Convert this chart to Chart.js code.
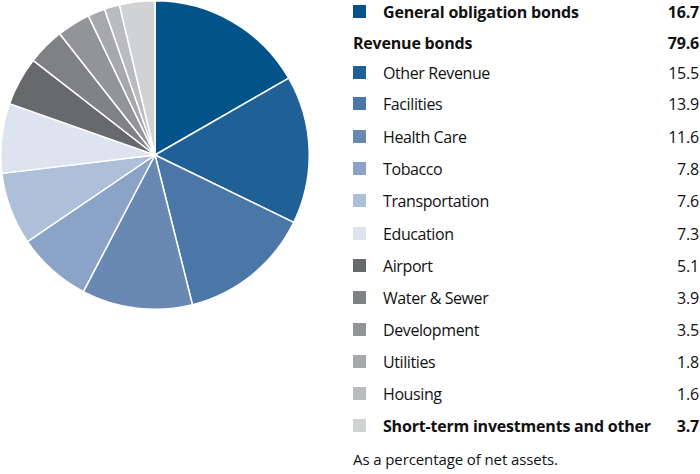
<!DOCTYPE html>
<html>
<head>
<meta charset="utf-8">
<script src="https://cdn.jsdelivr.net/npm/chart.js@4"></script>
<style>
  body { margin: 0; background: #fff; font-family: "Open Sans", sans-serif; color: #111; }
  #wrap { position: relative; width: 700px; height: 474px; }
  #pieBox { position: absolute; left: 0; top: 0; width: 310px; height: 310px; }
  #legend { position: absolute; left: 353px; top: 0; width: 346px; }
  .row { position: absolute; left: 0; width: 346px; height: 24px; line-height: 24px; font-size: 16px; }
  .sw { position: absolute; left: 0; top: 5px; width: 13px; height: 13px; }
  .lab { position: absolute; left: 30px; letter-spacing: -0.4px; }
  .val { position: absolute; right: 0; letter-spacing: -0.2px; }
  .bold { font-weight: 700; }
  .bold .lab { letter-spacing: -0.2px; }
  .head .lab { left: 0; }
  #note { position: absolute; left: 353px; top: 449px; font-size: 15px; letter-spacing: -0.1px; }
</style>
</head>
<body>
<div id="wrap">
  <div id="pieBox"><canvas id="myChart" width="310" height="310"></canvas></div>
  <div id="legend"></div>
  <div id="note">As a percentage of net assets.</div>
</div>
<script>
// 데이터
const labels = ["General obligation bonds", "Other Revenue", "Facilities", "Health Care", "Tobacco",
  "Transportation", "Education", "Airport", "Water & Sewer", "Development", "Utilities", "Housing",
  "Short-term investments and other"];
const values = [16.7, 15.5, 13.9, 11.6, 7.8, 7.6, 7.3, 5.1, 3.9, 3.5, 1.8, 1.6, 3.7];
const colors = ["#03538b", "#1f6197", "#4a77a8", "#6989b4", "#8aa3c6", "#aebfd9", "#dde4ef",
  "#68696d", "#808185", "#939497", "#a7a8ab", "#babbbe", "#d1d2d4"];
const boldLabels = ["General obligation bonds", "Short-term investments and other"];
const groupLabel = "Revenue bonds";
const groupValue = 79.6;

// 범례
const legend = document.getElementById("legend");
const rowY = [0, 31, 61, 92, 125, 157, 189, 222, 254, 286, 318, 350, 382, 414];

let html = "";
let r = 0;
for (let i = 0; i < labels.length; i++) {
  if (i == 1) {
    html += `<div class="row head bold" style="top:${rowY[r]}px">
      <span class="lab">${groupLabel}</span><span class="val">${groupValue.toFixed(1)}</span></div>`;
    r++;
  }
  let b = boldLabels.includes(labels[i]) ? " bold" : "";
  html += `<div class="row${b}" style="top:${rowY[r]}px">
    <span class="sw" style="background:${colors[i]}"></span>
    <span class="lab">${labels[i].replace("&", "&amp;")}</span>
    <span class="val">${values[i].toFixed(1)}</span></div>`;
  r++;
}
legend.innerHTML = html;

// 파이 차트
const ctx = document.getElementById("myChart");
new Chart(ctx, {
  type: "pie",
  data: {
    labels: labels,
    datasets: [{
      data: values,
      backgroundColor: colors,
      borderColor: "#ffffff",
      borderWidth: 1.5
    }]
  },
  options: {
    responsive: false,
    animation: false,
    layout: { padding: 0 },
    plugins: {
      legend: { display: false },
      tooltip: { enabled: false }
    }
  }
});
</script>
</body>
</html>
